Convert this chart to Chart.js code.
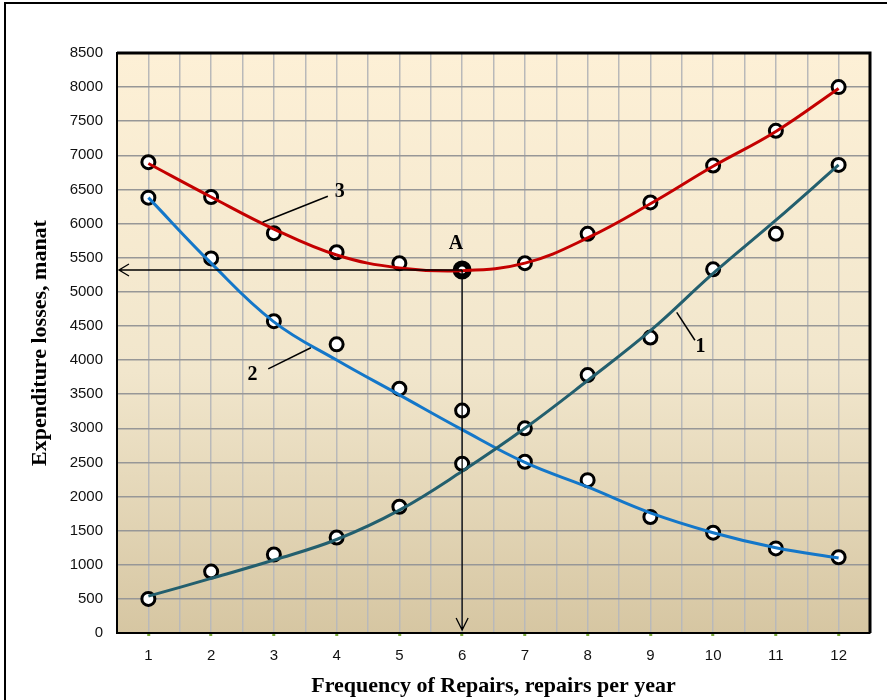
<!DOCTYPE html>
<html>
<head>
<meta charset="utf-8">
<script src="https://cdn.jsdelivr.net/npm/chart.js@4.4.1/dist/chart.umd.min.js"></script>
<style>
  body { margin: 0; background: #fff; }
  canvas { display: block; }
</style>
</head>
<body>
<canvas id="repairChart" width="887" height="700"></canvas>
<script>
const repairs = [1, 2, 3, 4, 5, 6, 7, 8, 9, 10, 11, 12];

// measured points (open circles)
const points1 = [500, 900, 1150, 1400, 1850, 2480, 3000, 3780, 4330, 5330, 5850, 6860];
const points2 = [6380, 5490, 4570, 4230, 3580, 3260, 2510, 2240, 1700, 1470, 1240, 1110];
const points3 = [6900, 6390, 5860, 5580, 5420, 5320, 5420, 5850, 6310, 6850, 7360, 8000];

// fitted curves
const curve1 = [540, 800, 1070, 1370, 1800, 2370, 3000, 3700, 4430, 5270, 6050, 6860];
const curve2 = [6380, 5420, 4560, 4000, 3490, 2980, 2500, 2140, 1760, 1470, 1250, 1100];
const curve3 = [6880, 6390, 5920, 5540, 5350, 5310, 5420, 5790, 6290, 6840, 7350, 7980];

const yTicks = [0, 500, 1000, 1500, 2000, 2500, 3000, 3500, 4000, 4500, 5000, 5500, 6000, 6500, 7000, 7500, 8000, 8500];

// annotations in data units
const pointA = { x: 6, y: 5320 };
const leaders = [
  { text: '1', from: [9.42, 4700], to: [9.71, 4290], label: [9.8, 4200] },
  { text: '2', from: [3.59, 4180], to: [2.91, 3870], label: [2.66, 3790] },
  { text: '3', from: [2.82, 6020], to: [3.86, 6400], label: [4.05, 6460] }
];

const xy = (vals) => vals.map((v, i) => ({ x: repairs[i], y: v }));

function pointSet(vals) {
  return {
    data: xy(vals),
    showLine: false,
    pointRadius: 6.5,
    pointHoverRadius: 6.5,
    pointBackgroundColor: '#ffffff',
    pointBorderColor: '#000000',
    pointBorderWidth: 3,
    order: 2
  };
}

function curveSet(vals, color) {
  return {
    data: xy(vals),
    borderColor: color,
    borderWidth: 3,
    pointRadius: 0,
    tension: 0.4,
    fill: false,
    order: 1
  };
}

const set3 = pointSet(points3);
set3.pointRadius = repairs.map(r => r === pointA.x ? 6.5 : 6.5);
set3.pointBorderWidth = repairs.map(r => r === pointA.x ? 6 : 3);

const backgroundPlugin = {
  id: 'background',
  beforeDraw(chart) {
    const { ctx, chartArea: a } = chart;
    const g = ctx.createLinearGradient(0, a.top, 0, a.bottom);
    g.addColorStop(0, '#fdf0d6');
    g.addColorStop(0.55, '#f1e6cc');
    g.addColorStop(1, '#d6c6a2');
    ctx.save();
    ctx.fillStyle = g;
    ctx.fillRect(a.left, a.top, a.right - a.left, a.bottom - a.top);
    ctx.restore();
  },
  afterDraw(chart) {
    const { ctx, chartArea: a } = chart;
    ctx.save();
    // outer frame
    ctx.strokeStyle = '#000';
    ctx.lineWidth = 2;
    ctx.strokeRect(5, 3, 1200, 1200);
    // top and right edges of plot
    ctx.lineWidth = 3;
    ctx.beginPath();
    ctx.moveTo(a.left, a.top);
    ctx.lineTo(a.right, a.top);
    ctx.lineTo(a.right, a.bottom);
    ctx.stroke();
    ctx.restore();
  }
};

const annotationPlugin = {
  id: 'annotations',
  afterDatasetsDraw(chart) {
    const { ctx, chartArea: a } = chart;
    const sx = chart.scales.x, sy = chart.scales.y;
    const px = v => sx.getPixelForValue(v);
    const py = v => sy.getPixelForValue(v);
    const ax = px(pointA.x), ay = py(pointA.y);

    ctx.save();
    ctx.strokeStyle = '#000';
    ctx.lineWidth = 1.3;
    // horizontal arrow to the y axis
    ctx.beginPath();
    ctx.moveTo(ax, ay);
    ctx.lineTo(a.left + 2, ay);
    ctx.moveTo(a.left + 12, ay - 6);
    ctx.lineTo(a.left + 2, ay);
    ctx.lineTo(a.left + 12, ay + 6);
    // vertical arrow to the x axis
    const by = a.bottom - 3;
    ctx.moveTo(ax, ay);
    ctx.lineTo(ax, by);
    ctx.moveTo(ax - 6, by - 12);
    ctx.lineTo(ax, by);
    ctx.lineTo(ax + 6, by - 12);
    ctx.stroke();

    // leader lines with curve numbers
    ctx.lineWidth = 1.5;
    ctx.font = 'bold 20px "Liberation Serif"';
    ctx.fillStyle = '#000';
    ctx.textAlign = 'center';
    ctx.textBaseline = 'middle';
    leaders.forEach(l => {
      ctx.beginPath();
      ctx.moveTo(px(l.from[0]), py(l.from[1]));
      ctx.lineTo(px(l.to[0]), py(l.to[1]));
      ctx.stroke();
      ctx.fillText(l.text, px(l.label[0]), py(l.label[1]));
    });
    ctx.fillText('A', px(5.9), py(5700));
    ctx.restore();
  }
};

const ctx = document.getElementById('repairChart').getContext('2d');

const repairChart = new Chart(ctx, {
  type: 'line',
  data: {
    datasets: [
      curveSet(curve1, '#235f6e'),
      curveSet(curve2, '#1477c9'),
      curveSet(curve3, '#c40000'),
      pointSet(points1),
      pointSet(points2),
      set3
    ]
  },
  options: {
    responsive: false,
    animation: false,
    layout: { padding: { top: 53, right: 17, left: 0, bottom: 0 } },
    plugins: {
      legend: { display: false },
      tooltip: { enabled: false }
    },
    scales: {
      x: {
        type: 'linear',
        min: 0.5,
        max: 12.5,
        afterFit(scale) { scale.height = 67; },
        afterBuildTicks(scale) {
          const t = [];
          for (let i = 1; i <= 25; i++) t.push({ value: 0.5 * i });
          scale.ticks = t;
        },
        ticks: {
          padding: 11,
          maxRotation: 0,
          autoSkip: false,
          color: '#111',
          font: { family: '"Liberation Sans"', size: 15 },
          callback: v => Number.isInteger(v) ? String(v) : ''
        },
        grid: {
          color: '#b9b9b9',
          lineWidth: 1.5,
          tickLength: 3,
          tickWidth: 3,
          tickColor: c => Number.isInteger(c.tick.value) ? '#7cab3c' : 'rgba(0,0,0,0)'
        },
        border: { color: '#000', width: 2 },
        title: {
          display: true,
          text: 'Frequency of Repairs, repairs per year',
          color: '#000',
          font: { family: '"Liberation Serif"', size: 22, weight: 'bold' },
          padding: { top: 0, bottom: 0 }
        }
      },
      y: {
        min: 0,
        max: 8500,
        afterFit(scale) { scale.width = 117; },
        afterBuildTicks(scale) {
          scale.ticks = yTicks.map(v => ({ value: v }));
        },
        ticks: {
          padding: 14,
          color: '#111',
          font: { family: '"Liberation Sans"', size: 15 },
          callback: v => String(v)
        },
        grid: {
          color: '#979797',
          lineWidth: 1.5,
          drawTicks: false
        },
        border: { color: '#000', width: 2 },
        title: {
          display: true,
          text: 'Expenditure losses, manat',
          color: '#000',
          font: { family: '"Liberation Serif"', size: 22, weight: 'bold' },
          padding: { top: 27, bottom: 0 }
        }
      }
    }
  },
  plugins: [backgroundPlugin, annotationPlugin]
});
</script>
</body>
</html>
